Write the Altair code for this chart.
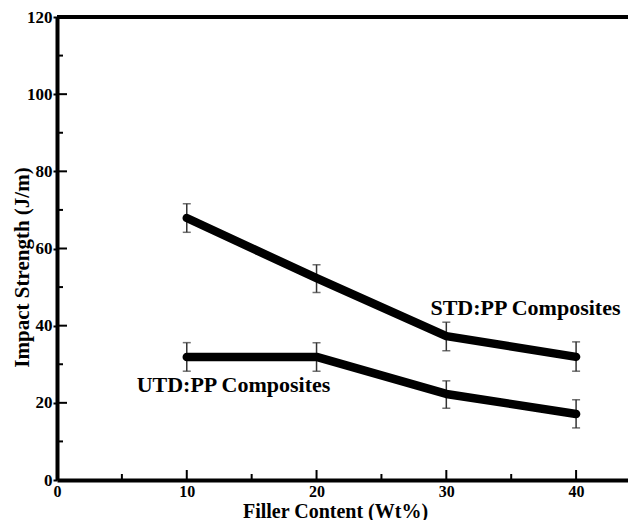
import altair as alt
import pandas as pd

filler = [10, 20, 30, 40]
std_vals = [67.9, 52.3, 37.3, 31.9]
std_lo = [64.2, 48.6, 33.5, 28.2]
std_hi = [71.6, 55.8, 40.9, 35.8]
utd_vals = [31.9, 31.9, 22.3, 17.1]
utd_lo = [28.2, 28.2, 18.6, 13.5]
utd_hi = [35.6, 35.6, 25.7, 20.8]

x_major = [10, 20, 30, 40]
x_minor = [5, 15, 25, 35]
y_major = [20, 40, 60, 80, 100]
y_minor = [10, 30, 50, 70, 90, 110]

labels = ["STD:PP Composites", "UTD:PP Composites"]
label_x = [36.1, 13.6]
label_y = [44.6, 24.6]

FONT = "Times New Roman, Liberation Serif, serif"

rows = []
for i, f in enumerate(filler):
    rows.append({"x": f, "y": std_vals[i], "lo": std_lo[i], "hi": std_hi[i], "s": "STD"})
    rows.append({"x": f, "y": utd_vals[i], "lo": utd_lo[i], "hi": utd_hi[i], "s": "UTD"})
df = pd.DataFrame(rows)

xs = alt.Scale(domain=[0, 44], nice=False)
ys = alt.Scale(domain=[0, 120], nice=False)

xax = alt.Axis(values=[0, 10, 20, 30, 40], title="Filler Content (Wt%)", grid=False,
               tickSize=0, labelPadding=3, labelFont=FONT, labelFontSize=16, labelFontWeight="bold",
               labelColor="black", titleFont=FONT, titleFontSize=20, titleFontWeight="bold",
               titleColor="black", titleX=278, titleY=37, titleBaseline="alphabetic",
               domainColor="black", domainWidth=4, labelFlush=False)
yax = alt.Axis(values=[0, 20, 40, 60, 80, 100, 120], title="Impact Strength (J/m)", grid=False,
               tickSize=4, tickWidth=2, tickColor="black", labelPadding=1, labelFont=FONT,
               labelFontSize=17, labelFontWeight="bold", labelColor="black", titleFont=FONT,
               titleFontSize=21, titleFontWeight="bold", titleColor="black", titleX=-35,
               titleY=250, titleBaseline="middle", domainColor="black", domainWidth=4, labelFlush=False)

base = alt.Chart(df)

lines = base.mark_line(color="black", strokeWidth=8.5, strokeCap="round", strokeJoin="round").encode(
    x=alt.X("x:Q", scale=xs, axis=xax),
    y=alt.Y("y:Q", scale=ys, axis=yax),
    detail="s:N",
)
errs = base.mark_rule(color="#333333", strokeWidth=1.5).encode(
    x=alt.X("x:Q", scale=xs), y=alt.Y("lo:Q", scale=ys), y2="hi:Q")
cap_lo = base.mark_tick(color="#333333", thickness=1.5, size=8, orient="horizontal").encode(
    x=alt.X("x:Q", scale=xs), y=alt.Y("lo:Q", scale=ys))
cap_hi = base.mark_tick(color="#333333", thickness=1.5, size=8, orient="horizontal").encode(
    x=alt.X("x:Q", scale=xs), y=alt.Y("hi:Q", scale=ys))

top = alt.Chart(pd.DataFrame({"y": [120]})).mark_rule(color="black", strokeWidth=4).encode(
    y=alt.Y("y:Q", scale=ys))

ymaj = alt.Chart(pd.DataFrame({"v": y_major})).mark_rule(color="black", strokeWidth=2).encode(
    y=alt.Y("v:Q", scale=ys), x=alt.value(0), x2=alt.value(10))
ymin = alt.Chart(pd.DataFrame({"v": y_minor})).mark_rule(color="black", strokeWidth=2).encode(
    y=alt.Y("v:Q", scale=ys), x=alt.value(0), x2=alt.value(6))
xmaj = alt.Chart(pd.DataFrame({"v": x_major})).mark_rule(color="black", strokeWidth=2).encode(
    x=alt.X("v:Q", scale=xs), y=alt.value(463), y2=alt.value(453))
xmin = alt.Chart(pd.DataFrame({"v": x_minor})).mark_rule(color="black", strokeWidth=2).encode(
    x=alt.X("v:Q", scale=xs), y=alt.value(463), y2=alt.value(457))

txt = alt.Chart(pd.DataFrame({"t": labels, "x": label_x, "y": label_y})).mark_text(
    font=FONT, fontSize=22, fontWeight="bold", color="black", align="center", baseline="middle"
).encode(x=alt.X("x:Q", scale=xs), y=alt.Y("y:Q", scale=ys), text="t:N")

chart = alt.layer(top, ymaj, ymin, xmaj, xmin, errs, cap_lo, cap_hi, lines, txt).properties(
    width=571, height=463,
    autosize=alt.AutoSizeParams(type="none"),
    padding={"left": 49, "top": 9, "right": 0, "bottom": 44},
).configure_view(stroke=None).configure(background="white")

chart.save("out.html", embed_options={"renderer": "svg", "actions": False})
